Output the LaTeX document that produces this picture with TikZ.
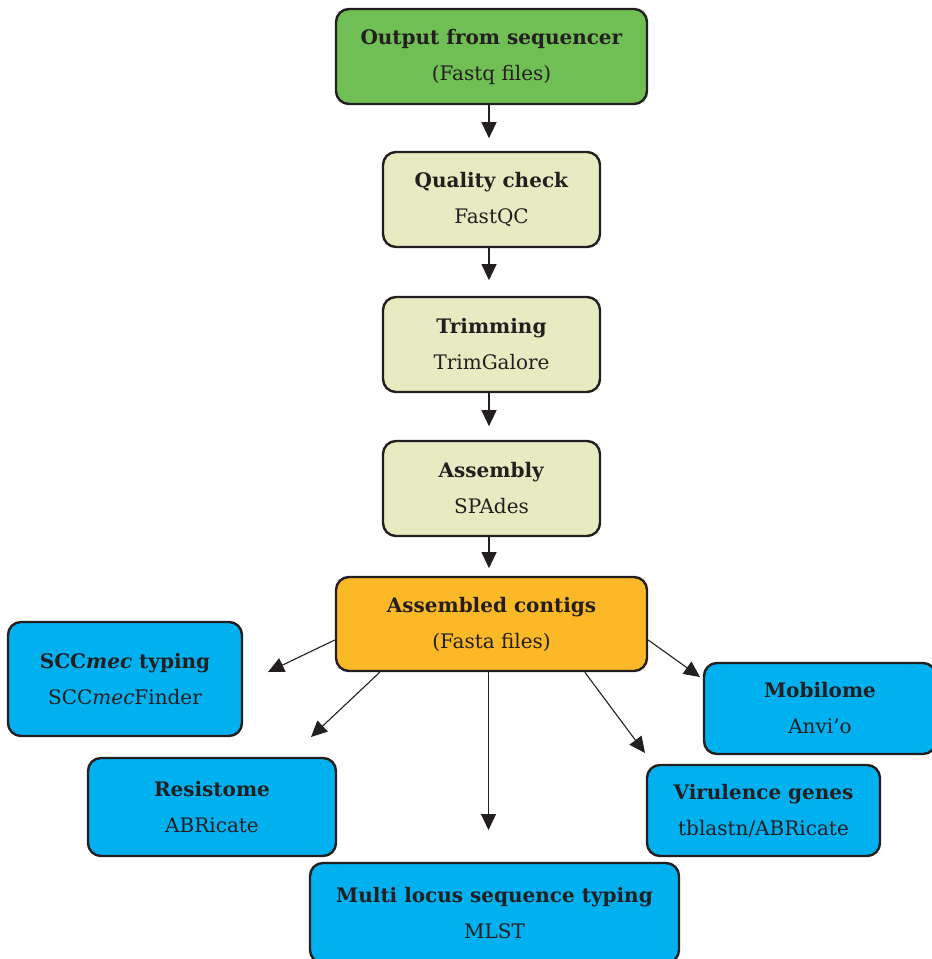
\documentclass[tikz,border=0pt]{standalone}
\usepackage{fontspec}
\setmainfont{DejaVu Serif}
\usetikzlibrary{arrows.meta}
\usetikzlibrary{calc}

\definecolor{seqgreen}{RGB}{112,191,85}
\definecolor{stepbeige}{RGB}{230,235,193}
\definecolor{contigorange}{RGB}{251,184,39}
\definecolor{toolblue}{RGB}{0,176,239}
\definecolor{edgegray}{RGB}{35,31,32}

\begin{document}
\begin{tikzpicture}[x=1pt,y=-1pt,>/.tip={Triangle[length=16pt,width=15pt]},
	stage/.style={draw=edgegray,line width=2.4pt,rounded corners=13pt,align=center,
		text=edgegray,font=\fontsize{20}{36}\selectfont,inner sep=0pt},
	flow/.style={->,draw=edgegray,line width=1.1pt}]
	\useasboundingbox (0,0) rectangle (932,959);
	\draw (491.5,56.5) node (output) [stage,fill=seqgreen,minimum width=311,minimum height=95] {\textbf{Output from sequencer}\\(Fastq files)};
	\draw (491.5,199.5) node (qc) [stage,fill=stepbeige,minimum width=217,minimum height=95] {\textbf{Quality check}\\FastQC};
	\draw (491.5,344.5) node (trim) [stage,fill=stepbeige,minimum width=217,minimum height=95] {\textbf{Trimming}\\TrimGalore};
	\draw (491.5,488.5) node (asm) [stage,fill=stepbeige,minimum width=217,minimum height=95] {\textbf{Assembly}\\SPAdes};
	\draw (491.5,624) node (contigs) [stage,fill=contigorange,minimum width=311,minimum height=94] {\textbf{Assembled contigs}\\(Fasta files)};
	
	\draw (125,679) node (scc) [stage,fill=toolblue,minimum width=234,minimum height=114] {\textbf{SCC\textit{mec} typing}\\SCC\textit{mec}Finder};
	\draw (212,807) node (res) [stage,fill=toolblue,minimum width=248,minimum height=98] {\textbf{Resistome}\\ABRicate};
	\draw (494.5,913) node (mlst) [stage,fill=toolblue,minimum width=369,minimum height=100] {\textbf{Multi locus sequence typing}\\MLST};
	\draw (820,708.5) node (mob) [stage,fill=toolblue,minimum width=232,minimum height=91] {\textbf{Mobilome}\\Anvi’o};
	\draw (763.5,810.5) node (vir) [stage,fill=toolblue,minimum width=233,minimum height=91] {\textbf{Virulence genes}\\tblastn/ABRicate};
	
	% arrow tips stop short of the next box
	\coordinate (qcin) at ($(output.south)+(-2.5,33)$);
	\coordinate (trimin) at ($(qc.south)+(-2.5,32)$);
	\coordinate (asmin) at ($(trim.south)+(-2.5,33)$);
	\coordinate (contigsin) at ($(asm.south)+(-2.5,31)$);
	\coordinate (sccin) at (268,672);
	\coordinate (resin) at (311,737);
	\coordinate (mlstin) at (488.5,830);
	\coordinate (virin) at (645,753);
	\coordinate (mobin) at (700,677);
	
	\draw[flow] (output.south -| qcin) -- (qcin);
	\draw[flow] (qc.south -| trimin) -- (trimin);
	\draw[flow] (trim.south -| asmin) -- (asmin);
	\draw[flow] (asm.south -| contigsin) -- (contigsin);
	\draw[flow] ($(contigs.west)+(0,16)$) -- (sccin);
	\draw[flow] ($(contigs.south west)+(45,0)$) -- (resin);
	\draw[flow] (contigs.south -| mlstin) -- (mlstin);
	\draw[flow] ($(contigs.south west)+(250,0)$) -- (virin);
	\draw[flow] ($(contigs.east)+(0,16)$) -- (mobin);
\end{tikzpicture}
\end{document}
